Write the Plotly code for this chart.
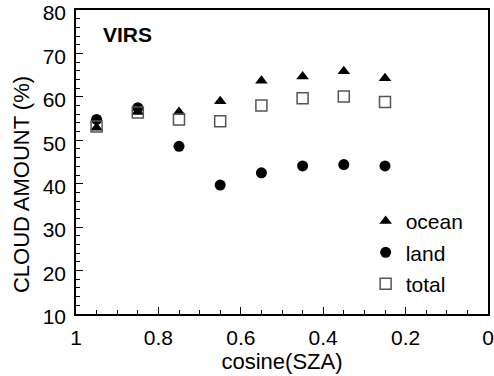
import plotly.graph_objects as go

cos_sza = [0.95, 0.85, 0.75, 0.65, 0.55, 0.45, 0.35, 0.25]
ocean = [52.9, 56.5, 56.5, 59.0, 63.7, 64.7, 65.9, 64.3]
land = [54.8, 57.5, 48.6, 39.7, 42.5, 44.1, 44.4, 44.1]
total = [53.2, 56.4, 54.8, 54.4, 58.0, 59.7, 60.1, 58.8]

font = "Liberation Sans, Arial, sans-serif"
fig = go.Figure()
fig.add_trace(go.Scatter(x=cos_sza, y=ocean, mode="markers", name="ocean", legendgroup="a",
                         marker=dict(symbol="triangle-up", size=11, color="black")))
fig.add_trace(go.Scatter(x=cos_sza, y=land, mode="markers", name="land", legendgroup="b",
                         marker=dict(symbol="circle", size=11, color="black")))
fig.add_trace(go.Scatter(x=cos_sza, y=total, mode="markers", name="total", legendgroup="c",
                         marker=dict(symbol="square-open", size=11, color="#555555",
                                     line=dict(width=1.5, color="#555555"))))

axis_common = dict(showline=True, linecolor="black", linewidth=1.5, mirror=True,
                   ticks="inside", ticklen=7, tickwidth=1.2, tickcolor="black",
                   showgrid=False, zeroline=False, ticklabeloverflow="allow",
                   automargin=False,
                   tickfont=dict(family=font, size=21, color="black"))
fig.update_xaxes(range=[1, 0], dtick=0.2, tick0=0, ticklabelstandoff=4,
                 minor=dict(dtick=0.05, ticks="inside", ticklen=4, tickcolor="black", tickwidth=1),
                 title=dict(text="cosine(SZA)", font=dict(family=font, size=22, color="black"), standoff=1),
                 **axis_common)
fig.update_yaxes(range=[10, 80], dtick=10, ticklabelstandoff=4, ticklabelshift=3,
                 minor=dict(dtick=2, ticks="inside", ticklen=4, tickcolor="black", tickwidth=1),
                 **axis_common)

fig.add_annotation(x=0, y=0.424, xref="paper", yref="paper", xshift=-55,
                   text="CLOUD AMOUNT (%)", textangle=-90, showarrow=False,
                   xanchor="center", yanchor="middle",
                   font=dict(family=font, size=22, color="black"))

fig.add_annotation(x=0.06, y=0.92, xref="paper", yref="paper", text="<b>VIRS</b>",
                   showarrow=False, xanchor="left", yanchor="middle",
                   font=dict(family=font, size=21, color="black"))

fig.update_layout(width=494, height=376, margin=dict(l=76, r=6, t=10, b=62),
                  plot_bgcolor="white", paper_bgcolor="white",
                  legend=dict(x=0.703, y=0.372, xanchor="left", yanchor="top",
                              bgcolor="rgba(0,0,0,0)", tracegroupgap=1,
                              font=dict(family=font, size=21, color="black")))
fig.write_html("out.html")
